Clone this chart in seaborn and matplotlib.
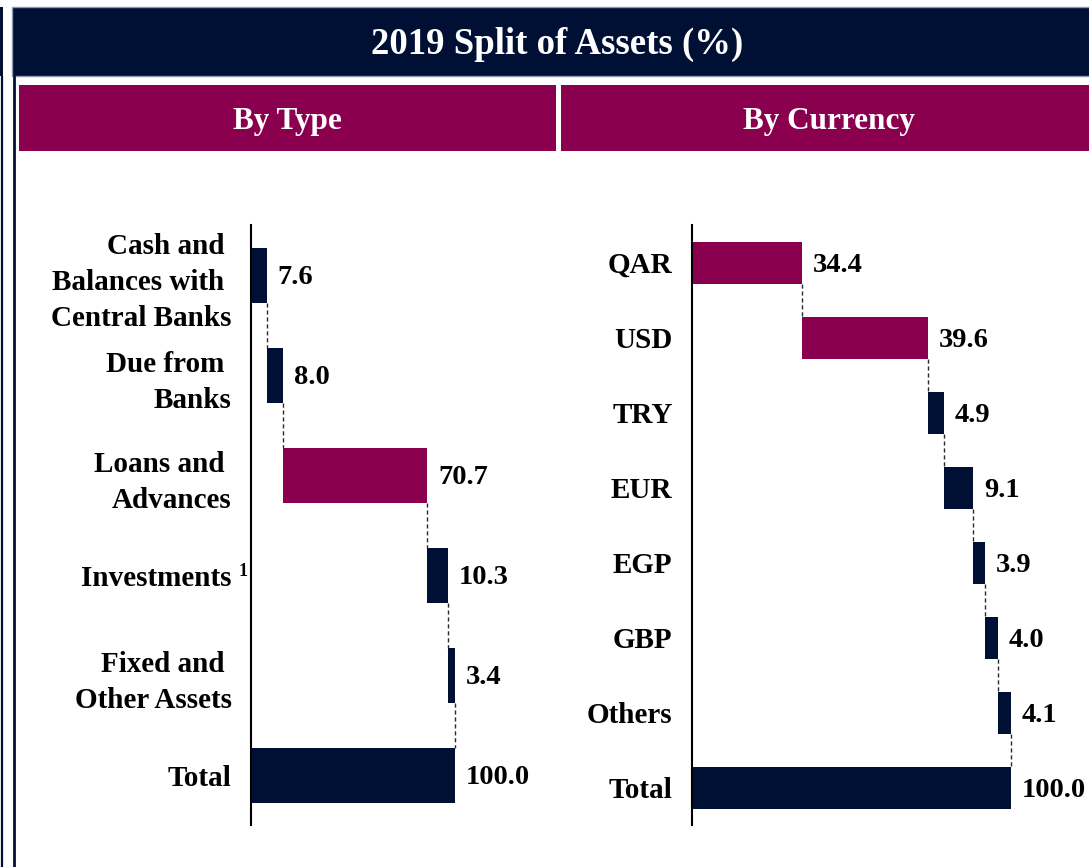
import matplotlib
matplotlib.use("Agg")
import matplotlib.pyplot as plt
from matplotlib.patches import Rectangle
from matplotlib.lines import Line2D
import seaborn as sns

# ---- data -------------------------------------------------------------
type_labels = ["Cash and \nBalances with \nCentral Banks", "Due from \nBanks",
               "Loans and \nAdvances", "Investments", "Fixed and \nOther Assets", "Total"]
type_values = [7.6, 8.0, 70.7, 10.3, 3.4, 100.0]
type_highlight = ["Loans and \nAdvances"]

currency_labels = ["QAR", "USD", "TRY", "EUR", "EGP", "GBP", "Others", "Total"]
currency_values = [34.4, 39.6, 4.9, 9.1, 3.9, 4.0, 4.1, 100.0]
currency_highlight = ["QAR", "USD"]

title = "2019 Split of Assets (%)"
panel_titles = ["By Type", "By Currency"]

# ---- style ------------------------------------------------------------
NAVY = "#001035"
MAROON = "#8A004F"
W, H = 1089, 867

sns.set_theme(style="white")
plt.rcParams["font.family"] = ["Liberation Serif", "DejaVu Serif"]
plt.rcParams["font.weight"] = "bold"

fig = plt.figure(figsize=(W / 100, H / 100), dpi=100)
fig.patch.set_facecolor("white")


def fx(x):
    return x / W


def fy(y):
    return 1 - y / H


def px_rect(x0, y0, x1, y1, **kw):
    fig.patches.append(Rectangle((fx(x0), fy(y1)), fx(x1) - fx(x0), fy(y0) - fy(y1),
                                 transform=fig.transFigure, figure=fig, **kw))


def px_vline(x, y0, y1, **kw):
    fig.lines.append(Line2D([fx(x), fx(x)], [fy(y0), fy(y1)],
                            transform=fig.transFigure, figure=fig, **kw))


# slide frame
px_rect(0, 7, 3, 76, facecolor=NAVY, edgecolor="none")
px_vline(1.5, 76, H, color=NAVY, lw=1.6)
px_vline(13.5, 76, H, color=NAVY, lw=2.0)
px_rect(12, 7, W + 2, 76, facecolor=NAVY, edgecolor="#8e97ab", lw=1.0)
fig.text(fx(557), fy(44), title, color="white", fontsize=26.5, fontweight="bold",
         ha="center", va="center")

# panel headers
px_rect(19, 85, 556, 151, facecolor=MAROON, edgecolor="none")
px_rect(561, 85, W + 2, 151, facecolor=MAROON, edgecolor="none")
fig.text(fx(287.5), fy(121), panel_titles[0], color="white", fontsize=22.5,
         fontweight="bold", ha="center", va="center")
fig.text(fx(829), fy(121), panel_titles[1], color="white", fontsize=22.5,
         fontweight="bold", ha="center", va="center")


def waterfall(ax, labels, values, highlight, bar_w, xmax):
    # running start/end of each bar; the last bar is the total from zero
    starts, ends = [], []
    run = 0.0
    for i, v in enumerate(values):
        if i == len(values) - 1:
            starts.append(0.0)
            ends.append(v)
        else:
            starts.append(run)
            run += v
            ends.append(run)
    palette = {lab: (MAROON if lab in highlight else NAVY) for lab in labels}

    sns.barplot(x=ends, y=labels, hue=labels, palette=palette, order=labels,
                hue_order=labels, orient="h", width=bar_w, saturation=1,
                linewidth=0, legend=False, ax=ax)
    sns.barplot(x=starts, y=labels, color="white", order=labels, orient="h",
                width=bar_w, saturation=1, linewidth=0, ax=ax)

    # dashed connectors between consecutive bars
    for i in range(len(values) - 1):
        ax.plot([ends[i], ends[i]], [i + bar_w / 2, i + 1 - bar_w / 2],
                color="#2a2a2a", lw=1.0, ls=(0, (3, 2)), zorder=3)

    for i, (e, v) in enumerate(zip(ends, values)):
        ax.annotate(f"{v:.1f}", xy=(e, i), xytext=(8, -2), textcoords="offset points",
                    ha="left", va="center", fontsize=20.5, fontweight="bold",
                    color="black", annotation_clip=False)

    ax.set_xlim(0, xmax)
    ax.set_ylim(len(values) - 0.5, -0.5)
    ax.set_xlabel("")
    ax.set_ylabel("")
    ax.set_xticks([])
    for side in ["top", "right", "bottom"]:
        ax.spines[side].set_visible(False)
    ax.spines["left"].set_color("black")
    ax.spines["left"].set_linewidth(1.5)
    ax.tick_params(axis="y", length=0, pad=14, labelsize=21, labelcolor="black")
    for t in ax.get_yticklabels():
        t.set_fontweight("bold")
        t.set_linespacing(1.42)
    ax.set_facecolor("none")


ax1 = fig.add_axes([fx(251), fy(825), 300 / W, 600 / H])
waterfall(ax1, type_labels, type_values, type_highlight, 0.55, 300 / 2.04)
fig.text(fx(243), fy(572), "1", fontsize=13, fontweight="bold", ha="center",
         va="center", color="black")

ax2 = fig.add_axes([fx(692), fy(825), (W - 692) / W, 600 / H])
waterfall(ax2, currency_labels, currency_values, currency_highlight, 0.56, (W - 692) / 3.19)

fig.savefig("out.png", dpi=100, facecolor="white")
